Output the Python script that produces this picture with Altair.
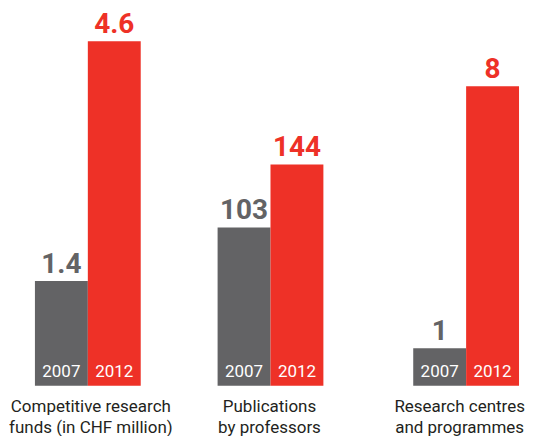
import altair as alt
import pandas as pd

# ---- data ----
title_lines = [
    ["Competitive research", "funds (in CHF million)"],
    ["Publications", "by professors"],
    ["Research centres", "and programmes"],
]
years = ["2007", "2012"]
values_2007 = [1.4, 103, 1]
values_2012 = [4.6, 144, 8]
labels_2007 = ["1.4", "103", "1"]
labels_2012 = ["4.6", "144", "8"]

# each group drawn on its own scale (as in the original graphic)
y_max = [4.987, 242.9, 9.973]

# ---- layout / style ----
panel_w = [170, 188, 159]
pad_outer = [0.6038, 0.7736, 0.5]
band_align = [0.406, 0.4756, 0.887]
title_dx = [-3, -3, 14]

GREY = "#636365"
RED = "#ee3127"
FONT = "Roboto"
H = 374


def panel(i):
    df = pd.DataFrame({
        "year": years,
        "value": [values_2007[i], values_2012[i]],
        "label": [labels_2007[i], labels_2012[i]],
    })
    yscale = alt.Scale(domain=[0, y_max[i]], nice=False, zero=True)
    x = alt.X("year:N", axis=None,
              scale=alt.Scale(paddingInner=0, paddingOuter=pad_outer[i], align=band_align[i]))
    color = alt.Color("year:N", scale=alt.Scale(domain=years, range=[GREY, RED]), legend=None)
    base = alt.Chart(df).encode(x=x)
    bars = base.mark_bar().encode(
        y=alt.Y("value:Q", axis=None, scale=yscale),
        color=color,
    )
    vals = base.mark_text(
        baseline="alphabetic", dy=-8, font=FONT, fontWeight="bold", fontSize=28
    ).encode(
        y=alt.Y("value:Q", axis=None, scale=yscale),
        text="label:N",
        color=color,
    )
    yrs = base.mark_text(
        baseline="alphabetic", dy=-9, font=FONT, fontSize=17, color="white"
    ).encode(
        y=alt.Y(datum=0, axis=None, scale=yscale),
        text="year:N",
    )
    return alt.layer(bars, vals, yrs).properties(
        width=panel_w[i],
        height=H,
        title=alt.TitleParams(
            text=title_lines[i],
            orient="bottom",
            anchor="middle",
            dx=title_dx[i],
            font=FONT,
            fontSize=17,
            fontWeight="normal",
            color="#231f20",
            lineHeight=21,
            offset=13,
        ),
    )


chart = alt.hconcat(panel(0), panel(1), panel(2), spacing=0, bounds="flush").configure_view(
    stroke=None
).properties(
    padding={"left": 0, "top": 3, "right": 0, "bottom": 0},
)

chart.save("out.html", embed_options={"renderer": "svg", "actions": False})
